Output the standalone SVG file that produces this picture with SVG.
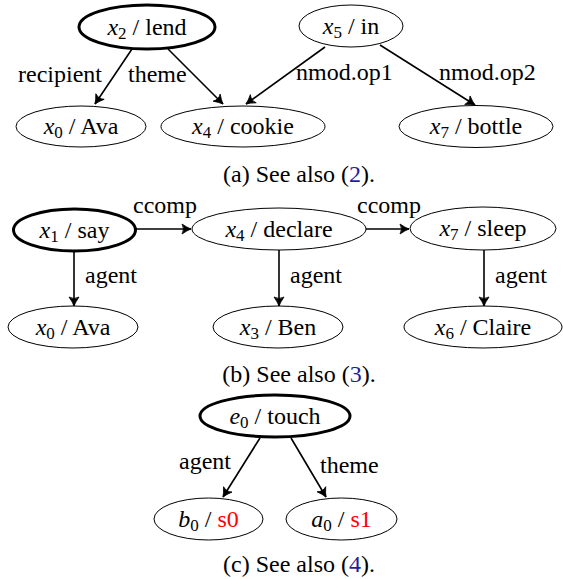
<svg xmlns="http://www.w3.org/2000/svg" width="563" height="579" viewBox="0 0 563 579">
<style>
text{font-family:"Liberation Serif","Times New Roman",serif;font-size:24px;fill:#000}
.c{text-anchor:middle}
.m{font-style:italic}
.sub{font-size:17px}
.n{fill:#fff;stroke:#000;stroke-width:1}
.root{fill:#fff;stroke:#000;stroke-width:3}
.e{stroke:#000;stroke-width:1.6;fill:none;marker-end:url(#arr)}
.blue{fill:#1f1f9e}
.red{fill:#ff0000}
</style>
<defs>
<marker id="arr" markerUnits="userSpaceOnUse" markerWidth="14" markerHeight="14" viewBox="-10 -7 12 14" refX="0" refY="0" orient="auto">
<path d="M-9,-5 Q-4,-1.5 0,0 Q-4,1.5 -9,5 Q-6,0 -9,-5 Z" fill="#000" stroke="#000" stroke-width="0.8" stroke-linejoin="round"/>
</marker>
</defs>
<g id="connectors">
<line class="e" x1="132" y1="49" x2="95" y2="104"/>
<line class="e" x1="168" y1="49" x2="223" y2="104"/>
<line class="e" x1="325" y1="47" x2="246" y2="104"/>
<line class="e" x1="380" y1="45" x2="475" y2="105"/>
<line class="e" x1="136" y1="229" x2="191" y2="229"/>
<line class="e" x1="366" y1="229" x2="409" y2="229"/>
<line class="e" x1="74" y1="252" x2="74" y2="306"/>
<line class="e" x1="279" y1="250" x2="279" y2="306"/>
<line class="e" x1="484" y1="250" x2="484" y2="306"/>
<line class="e" x1="260" y1="438" x2="223" y2="497"/>
<line class="e" x1="291" y1="438" x2="326" y2="497"/>
<text x="18" y="82">recipient</text>
<text x="128" y="82">theme</text>
<text x="296" y="80">nmod.op1</text>
<text x="439" y="80">nmod.op2</text>
<text x="133" y="213">ccomp</text>
<text x="357" y="213">ccomp</text>
<text x="85" y="283">agent</text>
<text x="290" y="283">agent</text>
<text x="495" y="283">agent</text>
<text x="179" y="469">agent</text>
<text x="320" y="473">theme</text>
</g>
<g id="a_x2_lend"><ellipse class="root" cx="147" cy="27" rx="68" ry="22"/><text class="c" x="147" y="35"><tspan class="m">x</tspan><tspan class="sub" dy="4">2</tspan><tspan dy="-4"> / lend</tspan></text></g>
<g id="a_x0_ava"><ellipse class="n" cx="81" cy="126.5" rx="65" ry="20.5"/><text class="c" x="81" y="134"><tspan class="m">x</tspan><tspan class="sub" dy="4">0</tspan><tspan dy="-4"> / Ava</tspan></text></g>
<g id="a_x4_cookie"><ellipse class="n" cx="243" cy="126.5" rx="82" ry="20.5"/><text class="c" x="243" y="134"><tspan class="m">x</tspan><tspan class="sub" dy="4">4</tspan><tspan dy="-4"> / cookie</tspan></text></g>
<g id="a_x5_in"><ellipse class="n" cx="351" cy="26" rx="52" ry="21"/><text class="c" x="351" y="34"><tspan class="m">x</tspan><tspan class="sub" dy="4">5</tspan><tspan dy="-4"> / in</tspan></text></g>
<g id="a_x7_bottle"><ellipse class="n" cx="476" cy="126.5" rx="77" ry="21"/><text class="c" x="476" y="134"><tspan class="m">x</tspan><tspan class="sub" dy="4">7</tspan><tspan dy="-4"> / bottle</tspan></text></g>
<text class="c" x="299" y="182">(a) See also (<tspan class="blue">2</tspan>).</text>
<g id="b_x1_say"><ellipse class="root" cx="74.5" cy="230" rx="61" ry="21"/><text class="c" x="74.5" y="238"><tspan class="m">x</tspan><tspan class="sub" dy="4">1</tspan><tspan dy="-4"> / say</tspan></text></g>
<g id="b_x4_declare"><ellipse class="n" cx="279" cy="229" rx="87" ry="21"/><text class="c" x="279" y="237"><tspan class="m">x</tspan><tspan class="sub" dy="4">4</tspan><tspan dy="-4"> / declare</tspan></text></g>
<g id="b_x7_sleep"><ellipse class="n" cx="483" cy="228.5" rx="73" ry="21.5"/><text class="c" x="483" y="236"><tspan class="m">x</tspan><tspan class="sub" dy="4">7</tspan><tspan dy="-4"> / sleep</tspan></text></g>
<g id="b_x0_ava"><ellipse class="n" cx="73" cy="327" rx="65" ry="21"/><text class="c" x="73" y="335"><tspan class="m">x</tspan><tspan class="sub" dy="4">0</tspan><tspan dy="-4"> / Ava</tspan></text></g>
<g id="b_x3_ben"><ellipse class="n" cx="278" cy="327" rx="65" ry="21"/><text class="c" x="278" y="335"><tspan class="m">x</tspan><tspan class="sub" dy="4">3</tspan><tspan dy="-4"> / Ben</tspan></text></g>
<g id="b_x6_claire"><ellipse class="n" cx="483" cy="327" rx="79" ry="21"/><text class="c" x="483" y="335"><tspan class="m">x</tspan><tspan class="sub" dy="4">6</tspan><tspan dy="-4"> / Claire</tspan></text></g>
<text class="c" x="299" y="382">(b) See also (<tspan class="blue">3</tspan>).</text>
<g id="c_e0_touch"><ellipse class="root" cx="275" cy="416" rx="75" ry="21"/><text class="c" x="275" y="424"><tspan class="m">e</tspan><tspan class="sub" dy="4">0</tspan><tspan dy="-4"> / touch</tspan></text></g>
<g id="c_b0_s0"><ellipse class="n" cx="208.5" cy="519" rx="54.5" ry="21"/><text class="c" x="208.5" y="527"><tspan class="m">b</tspan><tspan class="sub" dy="4">0</tspan><tspan dy="-4"> / </tspan><tspan class="red">s0</tspan></text></g>
<g id="c_a0_s1"><ellipse class="n" cx="341.5" cy="519" rx="55.5" ry="21"/><text class="c" x="341.5" y="527"><tspan class="m">a</tspan><tspan class="sub" dy="4">0</tspan><tspan dy="-4"> / </tspan><tspan class="red">s1</tspan></text></g>
<text class="c" x="299" y="572">(c) See also (<tspan class="blue">4</tspan>).</text>
</svg>
